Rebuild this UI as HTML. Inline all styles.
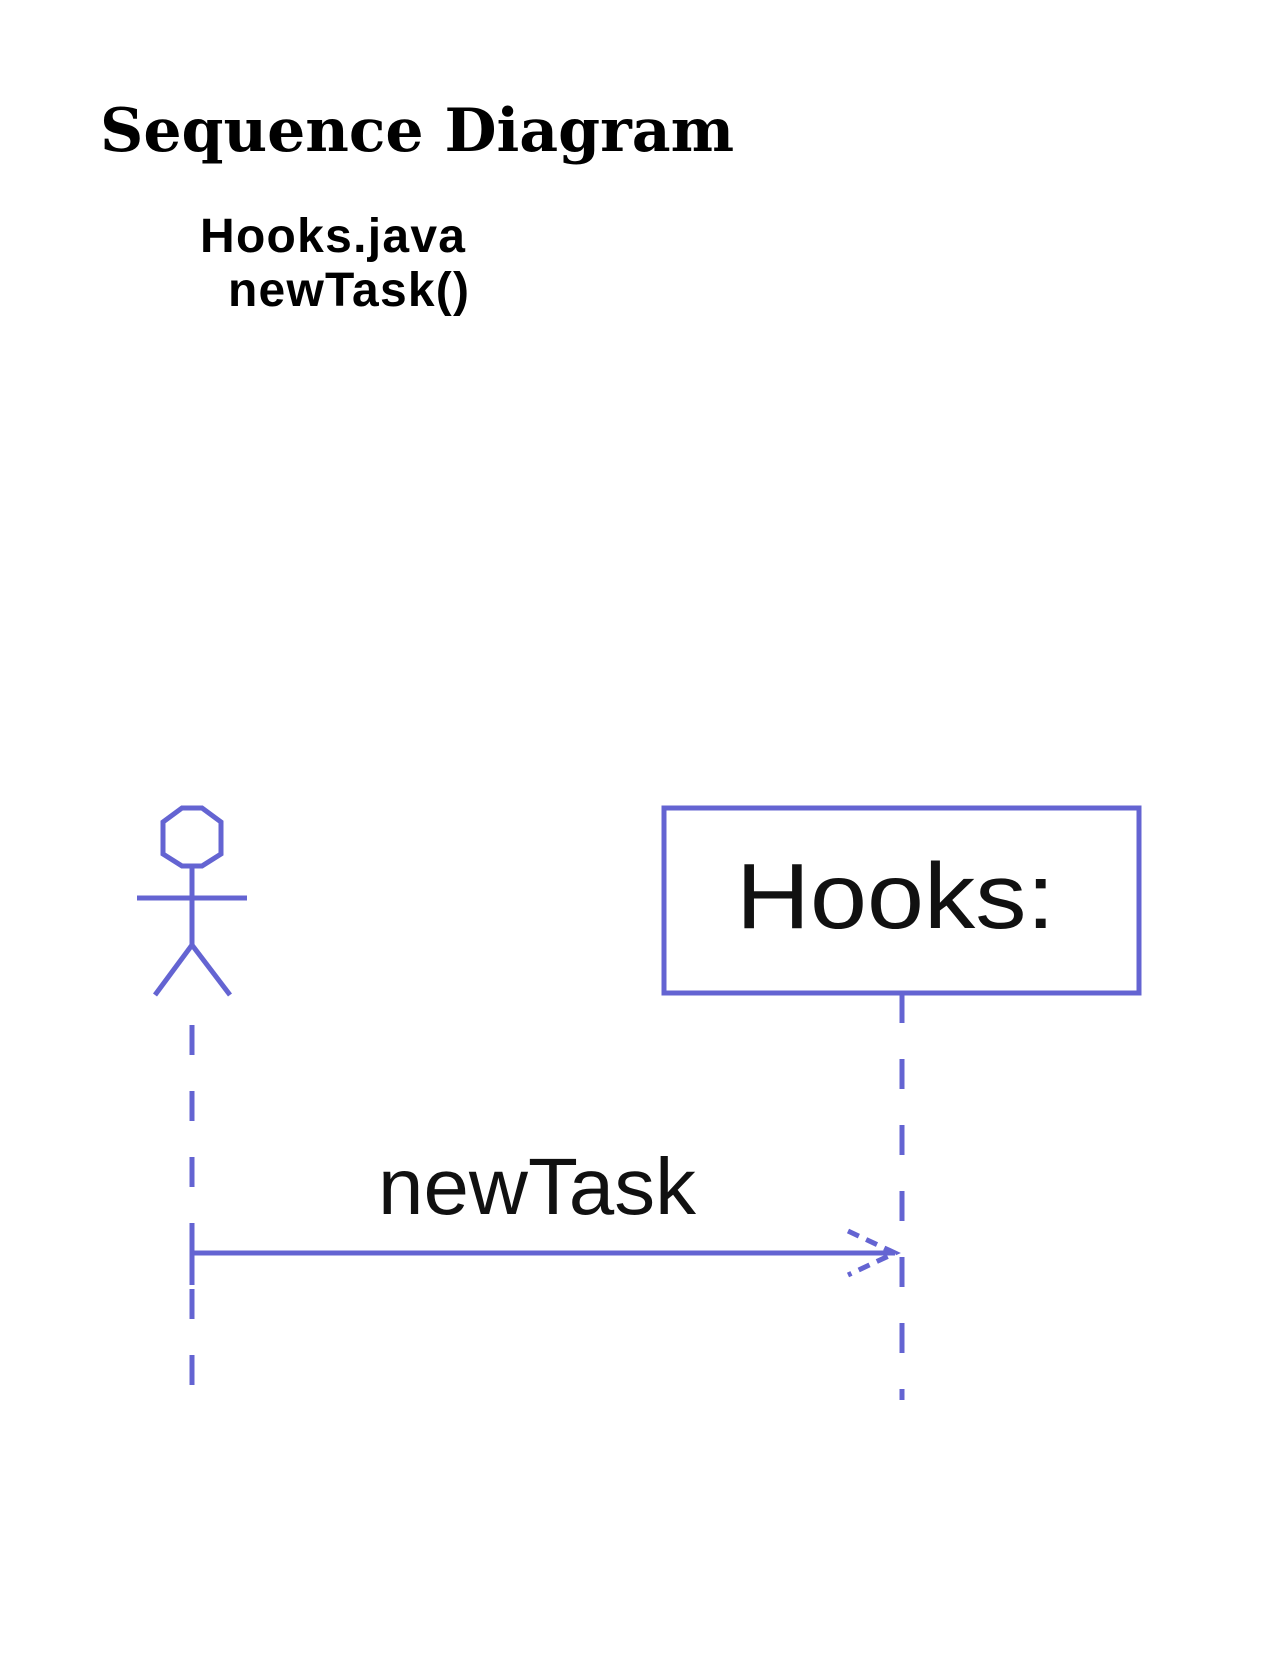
<!DOCTYPE html>
<html><head><meta charset="utf-8"><style>
html,body{margin:0;padding:0;background:#fff;}
body{width:1275px;height:1650px;position:relative;overflow:hidden;}
</style></head><body>
<svg width="1275" height="1650" viewBox="0 0 1275 1650" xmlns="http://www.w3.org/2000/svg">
<text x="100" y="151" font-family="DejaVu Serif, serif" font-weight="bold" font-size="60">Sequence Diagram</text>
<text x="200" y="252" font-family="Liberation Sans, sans-serif" font-weight="bold" font-size="48" textLength="265">Hooks.java</text>
<text x="228" y="306" font-family="Liberation Sans, sans-serif" font-weight="bold" font-size="48" textLength="241">newTask()</text>
<g stroke="#6464d2" stroke-width="5" fill="none">
<polygon points="182,808 202,808 221,822 221,854 202,866 182,866 163,854 163,822"/>
<line x1="192" y1="866" x2="192" y2="945"/>
<line x1="137" y1="898" x2="247" y2="898"/>
<line x1="192" y1="945" x2="155" y2="995"/>
<line x1="192" y1="945" x2="230" y2="995"/>
<rect x="664" y="808" width="475" height="185"/>
<line x1="192" y1="1025" x2="192" y2="1392" stroke-dasharray="30,36"/>
<line x1="902" y1="993" x2="902" y2="1400" stroke-dasharray="30,36"/>
<line x1="192" y1="1253" x2="895" y2="1253"/>
<line x1="192" y1="1253" x2="192" y2="1285"/>
<polyline points="848,1231 895,1253 848,1275" stroke-dasharray="12,8"/>
</g>
<text x="736" y="928" font-family="Liberation Sans, sans-serif" font-size="93" fill="#111" textLength="319" lengthAdjust="spacingAndGlyphs">Hooks:</text>
<text x="378" y="1214" font-family="Liberation Sans, sans-serif" font-size="80" fill="#111" textLength="318" lengthAdjust="spacingAndGlyphs">newTask</text>
</svg>
</body></html>
